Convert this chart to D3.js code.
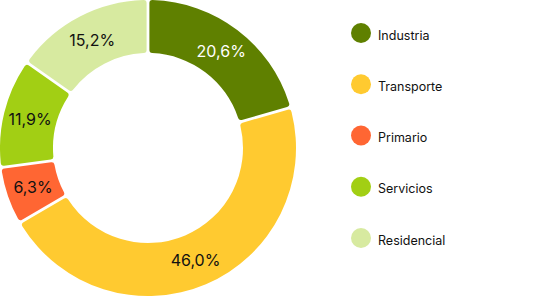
<!DOCTYPE html>
<html>
<head>
<meta charset="utf-8">
<script src="https://cdn.jsdelivr.net/npm/d3@7"></script>
<style>
  body { margin: 0; background: #fff; }
  svg { display: block; font-family: Inter, 'Noto Sans', sans-serif; }
</style>
</head>
<body>
<script>
const categories = ['Industria', 'Transporte', 'Primario', 'Servicios', 'Residencial']
const values = [20.6, 46.0, 6.3, 11.9, 15.2]
const labels = ['20,6%', '46,0%', '6,3%', '11,9%', '15,2%']
const colors = ['#5f8000', '#ffca30', '#ff6633', '#a2cf14', '#d7eaa0']
const labelColors = ['#fff', '#111', '#111', '#111', '#111']

const width = 542
const height = 297
const cx = 148
const cy = 148
const outer = 148
const inner = 95

const svg = d3.select('body').append('svg')
  .attr('width', width)
  .attr('height', height)

const g = svg.append('g')
  .attr('transform', `translate(${cx}, ${cy})`)

const pie = d3.pie().value(d => d).sort(null)
const arc = d3.arc()
  .outerRadius(outer)
  .innerRadius(inner)
  .cornerRadius(3)
  .padAngle(0.016)
const labelArc = d3.arc().outerRadius((outer + inner) / 2).innerRadius((outer + inner) / 2)

const arcs = pie(values)

g.selectAll('path')
  .data(arcs)
  .enter().append('path')
    .attr('d', arc)
    .style('fill', (d, i) => colors[i])

g.selectAll('text')
  .data(arcs)
  .enter().append('text')
    .attr('transform', d => `translate(${labelArc.centroid(d)})`)
    .attr('text-anchor', 'middle')
    .attr('dy', '0.36em')
    .style('font-size', '16px')
    .style('fill', (d, i) => labelColors[i])
    .text((d, i) => labels[i])

// legend
const legendY = d3.scalePoint().domain(categories).range([33, 238])
const legend = svg.append('g')
  .selectAll('g')
  .data(categories)
  .enter().append('g')
    .attr('transform', d => `translate(361, ${legendY(d)})`)

legend.append('circle')
  .attr('r', 10)
  .style('fill', (d, i) => colors[i])

legend.append('text')
  .attr('x', 17)
  .attr('y', 2)
  .attr('dy', '0.36em')
  .style('font-size', '12.5px')
  .style('fill', '#111')
  .text(d => d)
</script>
</body>
</html>
